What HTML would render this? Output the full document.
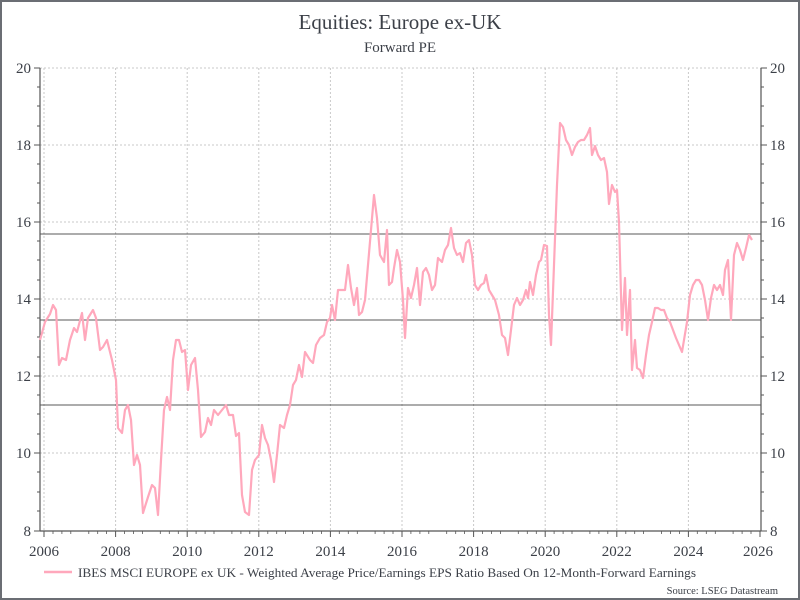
<!DOCTYPE html>
<html><head><meta charset="utf-8"><style>
body{margin:0;background:#fff}
svg{display:block;font-family:"Liberation Serif",serif}
</style></head><body>
<svg width="800" height="600" viewBox="0 0 800 600">
<rect x="1" y="1" width="798" height="598" fill="#fff" stroke="#6b6e74" stroke-width="2"/>
<text x="400" y="29" text-anchor="middle" font-size="21" fill="#3c4048">Equities: Europe ex-UK</text>
<text x="400" y="52" text-anchor="middle" font-size="15" fill="#3c4048">Forward PE</text>
<g stroke="#c8c8c8" stroke-width="1" stroke-dasharray="2,2">
<line x1="40" y1="68" x2="761" y2="68"/><line x1="40" y1="145" x2="761" y2="145"/><line x1="40" y1="222" x2="761" y2="222"/><line x1="40" y1="299" x2="761" y2="299"/><line x1="40" y1="376" x2="761" y2="376"/><line x1="40" y1="453" x2="761" y2="453"/>
<line x1="44" y1="68" x2="44" y2="531"/><line x1="115.6" y1="68" x2="115.6" y2="531"/><line x1="187.2" y1="68" x2="187.2" y2="531"/><line x1="258.8" y1="68" x2="258.8" y2="531"/><line x1="330.4" y1="68" x2="330.4" y2="531"/><line x1="402" y1="68" x2="402" y2="531"/><line x1="473.6" y1="68" x2="473.6" y2="531"/><line x1="545.2" y1="68" x2="545.2" y2="531"/><line x1="616.8" y1="68" x2="616.8" y2="531"/><line x1="688.4" y1="68" x2="688.4" y2="531"/>
</g>
<g stroke="#222" stroke-width="0.8">
<line x1="40" y1="234" x2="761" y2="234"/><line x1="40" y1="320" x2="761" y2="320"/><line x1="40" y1="405" x2="761" y2="405"/>
</g>
<g stroke="#555" stroke-width="1.2">
<line x1="40" y1="68" x2="40" y2="531"/><line x1="761" y1="68" x2="761" y2="531"/><line x1="40" y1="531" x2="761" y2="531"/>
</g>
<g stroke="#555" stroke-width="1">
<path d="M34 68H40M34 145H40M34 222H40M34 299H40M34 376H40M34 453H40M34 531H40M37 87H40M37 106H40M37 126H40M37 164H40M37 183H40M37 203H40M37 241H40M37 260H40M37 280H40M37 318H40M37 337H40M37 357H40M37 395H40M37 414H40M37 434H40M37 472H40M37 492H40M37 511H40"/>
<path d="M761 68H767M761 145H767M761 222H767M761 299H767M761 376H767M761 453H767M761 531H767M761 87H764M761 106H764M761 126H764M761 164H764M761 183H764M761 203H764M761 241H764M761 260H764M761 280H764M761 318H764M761 337H764M761 357H764M761 395H764M761 414H764M761 434H764M761 472H764M761 492H764M761 511H764"/>
<path d="M44 531V537M115.6 531V537M187.2 531V537M258.8 531V537M330.4 531V537M402 531V537M473.6 531V537M545.2 531V537M616.8 531V537M688.4 531V537M760 531V537"/>
</g>
<g stroke="#555" stroke-width="0.8" id="minor"></g>
<script>
(function(){var g=document.getElementById('minor'),d='';for(var y=0;y<20;y++){for(var q=1;q<4;q++){var x=44+(y+q/4)*35.8;d+='M'+x.toFixed(1)+' 531V534';}}var p=document.createElementNS('http://www.w3.org/2000/svg','path');p.setAttribute('d',d);g.appendChild(p);})();
</script>
<g font-size="15" fill="#3c4048" text-anchor="end">
<text x="31" y="73">20</text><text x="31" y="150">18</text><text x="31" y="227">16</text><text x="31" y="304">14</text><text x="31" y="381">12</text><text x="31" y="458">10</text><text x="31" y="536">8</text>
</g>
<g font-size="15" fill="#3c4048">
<text x="770" y="73">20</text><text x="770" y="150">18</text><text x="770" y="227">16</text><text x="770" y="304">14</text><text x="770" y="381">12</text><text x="770" y="458">10</text><text x="770" y="536">8</text>
</g>
<g font-size="15" fill="#3c4048" text-anchor="middle">
<text x="44" y="556">2006</text><text x="115.6" y="556">2008</text><text x="187.2" y="556">2010</text><text x="258.8" y="556">2012</text><text x="330.4" y="556">2014</text><text x="402" y="556">2016</text><text x="473.6" y="556">2018</text><text x="545.2" y="556">2020</text><text x="616.8" y="556">2022</text><text x="688.4" y="556">2024</text><text x="758" y="556">2026</text>
</g>
<polyline fill="none" stroke="#ffa8bc" stroke-width="2.2" stroke-linejoin="round" points="40,340 45,322 50,314 53,305 56,310 59,365 62,358 66,360 70,340 74,328 77,332 82,313 85,340 88,318 93,310 96,318 100,350 103,347 107,340 112,360 116,380 118,428 122,433 125,410 128,405 131,420 134,465 137,455 140,465 143,513 148,497 152,485 155,488 158,515 161,460 164,410 167,397 170,410 173,360 176,340 179,340 182,352 185,350 188,390 191,365 195,358 198,390 201,437 205,432 208,418 211,425 214,410 218,415 222,410 226,405 229,415 233,415 236,436 239,433 242,495 245,512 249,515 252,470 255,460 259,455 262,425 265,438 268,445 271,460 274,482 277,455 280,425 284,428 287,415 290,405 293,385 296,380 299,365 302,377 305,352 310,360 313,363 316,345 320,338 324,335 327,322 330,318 332,305 335,320 338,290 342,290 345,290 348,265 351,288 354,305 357,288 359,315 362,312 365,300 368,265 371,230 374,195 377,218 380,255 384,262 387,230 389,285 392,282 394,268 397,250 400,262 403,300 405,338 408,288 411,298 414,285 417,268 420,305 423,272 426,268 429,275 432,290 435,285 438,258 442,262 445,250 448,245 451,228 454,248 457,255 460,253 463,262 466,243 469,240 472,255 475,285 478,290 481,285 484,283 486,275 489,290 492,295 495,300 499,315 502,335 505,338 508,355 511,330 514,305 517,298 520,305 523,300 526,290 528,298 530,282 533,295 536,275 539,262 541,260 544,245 547,246 549,315 551,345 554,265 557,185 560,123 563,127 566,140 569,145 572,155 575,147 578,142 581,140 584,140 587,135 590,128 592,155 595,146 598,155 601,160 604,158 607,172 609,204 612,185 615,192 617,190 619,222 622,330 625,278 627,335 630,290 632,370 635,340 637,368 640,370 643,378 646,355 649,335 652,322 655,308 658,308 661,310 664,310 667,318 670,322 673,330 676,338 679,345 682,352 684,340 687,322 690,295 693,285 696,280 699,280 702,285 705,300 708,320 711,298 714,285 717,290 720,285 723,295 725,270 728,260 731,320 734,255 737,243 740,250 743,260 746,248 749,235 752,240"/>
<line x1="44" y1="572" x2="72" y2="572" stroke="#ffa8bc" stroke-width="2.5"/>
<text x="78" y="577" font-size="13" fill="#3c4048" textLength="618" lengthAdjust="spacingAndGlyphs">IBES MSCI EUROPE ex UK - Weighted Average Price/Earnings EPS Ratio Based On 12-Month-Forward Earnings</text>
<text x="778" y="594" font-size="10.5" fill="#3c4048" text-anchor="end">Source: LSEG Datastream</text>
</svg>
</body></html>
